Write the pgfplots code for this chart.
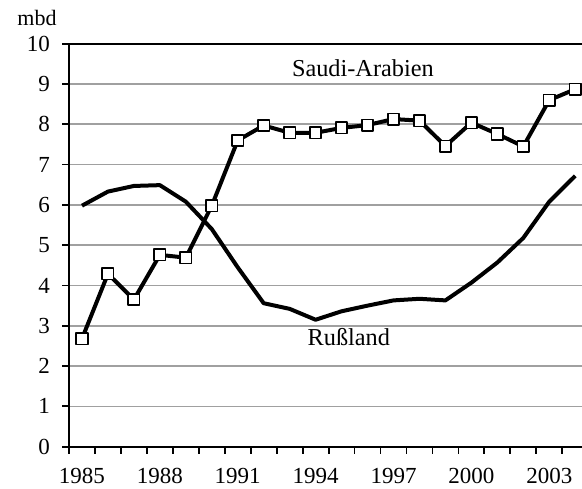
\documentclass[border=0pt]{standalone}
\usepackage{fontspec}
\setmainfont{Liberation Serif}
\usepackage{pgfplots}
\pgfplotsset{compat=1.18}
\definecolor{gridgray}{HTML}{A0A0A0}
\begin{document}
\begin{tikzpicture}
\begin{axis}[
  scale only axis,
  width=519.2pt, height=403pt,
  xmin=1984.5, xmax=2004.5,
  ymin=0, ymax=10,
  axis line style={line width=2pt},
  tick align=outside,
  xtick pos=bottom, ytick pos=left,
  major tick length=7pt,
  minor tick length=7pt,
  every tick/.style={black, line width=1.8pt},
  xtick={1985,1988,...,2003},
  every major x tick/.append style={draw=none},
  minor xtick={1984.5,1985.5,...,2004.5},
  ytick={0,1,...,10},
  ymajorgrids=true,
  grid style={gridgray, line width=1.7pt},
  /pgf/number format/assume math mode=true,
  /pgf/number format/1000 sep={},
  xticklabel style={font=\fontsize{23}{24}\selectfont, inner sep=0pt, yshift=-14.5pt},
  yticklabel style={font=\fontsize{23}{24}\selectfont, inner sep=0pt, xshift=-12pt},
  clip=false,
]
\coordinate (bl) at (rel axis cs:0,0);
\coordinate (tr) at (rel axis cs:1,1);
\addplot[black, line width=4pt, line join=round, no markers] coordinates {
(1985,5.98) (1986,6.33) (1987,6.47) (1988,6.49) (1989,6.08) (1990,5.40)
(1991,4.45) (1992,3.56) (1993,3.42) (1994,3.15) (1995,3.36) (1996,3.50)
(1997,3.63) (1998,3.67) (1999,3.63) (2000,4.07) (2001,4.57) (2002,5.18)
(2003,6.08) (2004,6.72)
};
\addplot[black, line width=4pt, line join=round, mark=square*,
  mark size=5.7pt, mark options={fill=white, draw=black, line width=1.7pt}] coordinates {
(1985,2.68) (1986,4.29) (1987,3.65) (1988,4.76) (1989,4.69) (1990,5.98)
(1991,7.60) (1992,7.97) (1993,7.79) (1994,7.79) (1995,7.91) (1996,7.98)
(1997,8.13) (1998,8.09) (1999,7.46) (2000,8.04) (2001,7.76) (2002,7.45)
(2003,8.60) (2004,8.87)
};
\node[anchor=base, font=\fontsize{24.3}{26}\selectfont, inner sep=0pt] at (axis cs:1995.82,9.18) {Saudi-Arabien};
\node[anchor=base, font=\fontsize{24.3}{26}\selectfont, inner sep=0pt] at (axis cs:1995.28,2.50) {Rußland};
\node[anchor=base, font=\fontsize{22}{23}\selectfont, inner sep=0pt, xshift=-32pt, yshift=17.7pt] at (rel axis cs:0,1) {mbd};
\end{axis}
\pgfresetboundingbox
\useasboundingbox ([xshift=-69pt,yshift=-42.3pt]bl) rectangle ([xshift=-6.2pt, yshift=43.7pt]tr);
\end{tikzpicture}
\end{document}
